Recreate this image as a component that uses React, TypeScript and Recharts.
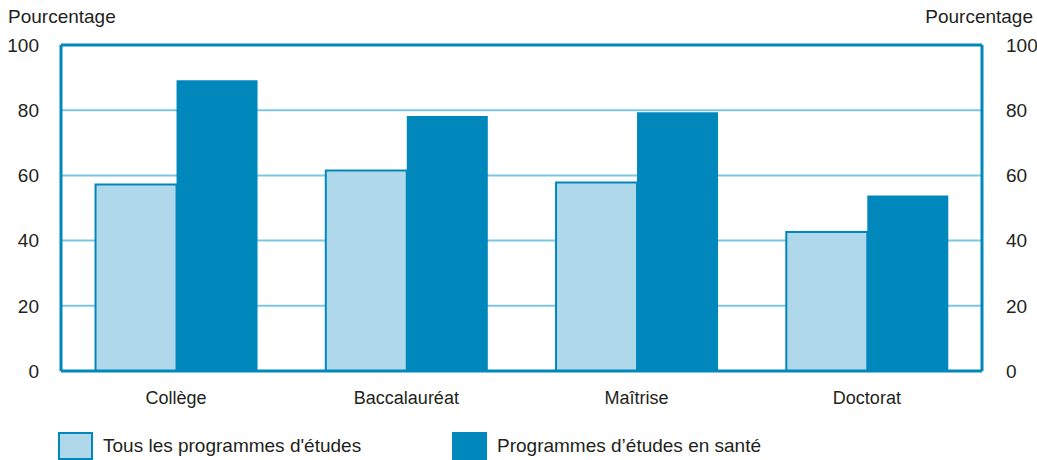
import { Bar, CartesianGrid, ComposedChart, Legend, Line, ReferenceLine, XAxis, YAxis } from "recharts"

const niveaux = ["Collège", "Baccalauréat", "Maîtrise", "Doctorat"]
const tousProgrammes = [57.2, 61.5, 57.8, 42.6]
const programmesSante = [89.2, 78.2, 79.4, 53.8]
const yTicks = [0, 20, 40, 60, 80, 100]

const data = niveaux.map((name, i) => ({
  name,
  tous: tousProgrammes[i],
  sante: programmesSante[i],
}))

const DARK = "#0088bc"
const LIGHT = "#b0d8eb"
const GRID = "#7cc5e5"
const TEXT = "#231f20"
const FONT = "'Liberation Sans', Arial, sans-serif"

const legendItems = [
  { label: "Tous les programmes d'études", fill: LIGHT, stroke: DARK, width: 394 },
  { label: "Programmes d’études en santé", fill: DARK, stroke: DARK, width: 400 },
]

function renderLegend() {
  return (
    <div style={{ display: "flex", paddingLeft: 58, fontFamily: FONT, fontSize: 19, color: TEXT }}>
      {legendItems.map((it) => (
        <div key={it.label} style={{ display: "flex", alignItems: "center", width: it.width }}>
          <div
            style={{
              width: 31,
              height: 24,
              background: it.fill,
              border: `2px solid ${it.stroke}`,
              marginRight: 10,
            }}
          />
          <span>{it.label}</span>
        </div>
      ))}
    </div>
  )
}

export default function App() {
  return (
    <div style={{ position: "absolute", left: 0, top: 0, width: 1037, height: 460, background: "#fff" }}>
      <div style={{ position: "absolute", left: 8, top: 6, fontFamily: FONT, fontSize: 19, color: TEXT }}>
        Pourcentage
      </div>
      <div style={{ position: "absolute", right: 4, top: 6, fontFamily: FONT, fontSize: 19, color: TEXT }}>
        Pourcentage
      </div>
      <ComposedChart
        width={1037}
        height={460}
        data={data}
        margin={{ top: 45, right: 0, bottom: 0, left: 0 }}
        barCategoryGap="15%"
        barGap={0}
      >
        <CartesianGrid yAxisId="left" horizontal vertical={false} stroke={GRID} strokeWidth={2} />
        <XAxis
          dataKey="name"
          axisLine={{ stroke: DARK, strokeWidth: 3 }}
          tickLine={false}
          tick={{ fill: TEXT, fontSize: 18, fontFamily: FONT }}
          tickMargin={14}
          height={61}
        />
        <YAxis
          yAxisId="left"
          orientation="left"
          domain={[0, 100]}
          ticks={yTicks}
          width={61}
          axisLine={{ stroke: DARK, strokeWidth: 3 }}
          tickLine={false}
          tickMargin={16}
          tick={{ fill: TEXT, fontSize: 19, fontFamily: FONT }}
        />
        <YAxis
          yAxisId="right"
          orientation="right"
          domain={[0, 100]}
          ticks={yTicks}
          width={55}
          axisLine={{ stroke: DARK, strokeWidth: 3 }}
          tickLine={false}
          tickMargin={18}
          tick={{ fill: TEXT, fontSize: 19, fontFamily: FONT }}
        />
        <ReferenceLine yAxisId="left" y={100} stroke={DARK} strokeWidth={3} />
        <Bar yAxisId="left" dataKey="tous" fill={LIGHT} stroke={DARK} strokeWidth={2} isAnimationActive={false} />
        <Bar yAxisId="left" dataKey="sante" fill={DARK} isAnimationActive={false} />
        <Line
          yAxisId="right"
          dataKey="sante"
          stroke="none"
          dot={false}
          activeDot={false}
          legendType="none"
          isAnimationActive={false}
        />
        <Legend
          verticalAlign="bottom"
          content={renderLegend}
          wrapperStyle={{ left: 0, top: 432, width: 1037, height: 28 }}
        />
      </ComposedChart>
    </div>
  )
}
